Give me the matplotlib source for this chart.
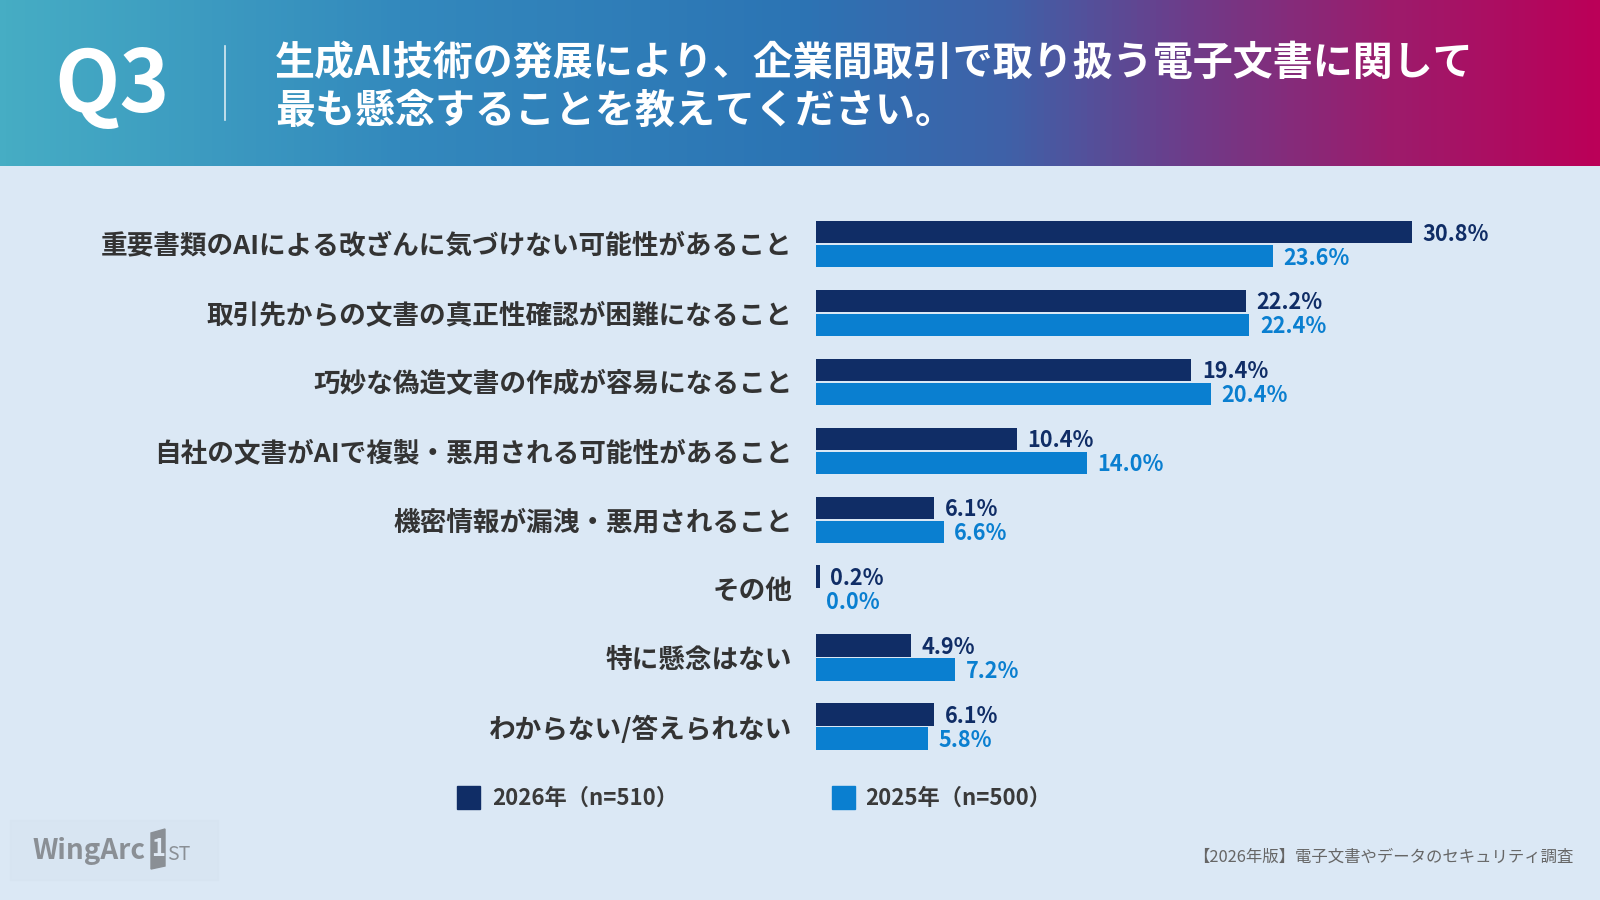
import numpy as np
import matplotlib
matplotlib.use("Agg")
import matplotlib.pyplot as plt
from matplotlib.colors import LinearSegmentedColormap
from matplotlib.patches import Rectangle, Polygon

plt.rcParams['font.family'] = ['Noto Sans CJK JP', 'DejaVu Sans']

# data
categories = [
    "重要書類のAIによる改ざんに気づけない可能性があること",
    "取引先からの文書の真正性確認が困難になること",
    "巧妙な偽造文書の作成が容易になること",
    "自社の文書がAIで複製・悪用される可能性があること",
    "機密情報が漏洩・悪用されること",
    "その他",
    "特に懸念はない",
    "わからない/答えられない",
]
vals_2026 = [30.8, 22.2, 19.4, 10.4, 6.1, 0.2, 4.9, 6.1]
vals_2025 = [23.6, 22.4, 20.4, 14.0, 6.6, 0.0, 7.2, 5.8]
series_names = ["2026年（n=510）", "2025年（n=500）"]

title_lines = ["生成AI技術の発展により、企業間取引で取り扱う電子文書に関して",
               "最も懸念することを教えてください。"]
source = "【2026年版】電子文書やデータのセキュリティ調査"

W, H = 1600, 900
BG = "#dbe8f5"
DARK = "#102d66"
BLUE = "#0a7fd0"
TXT = "#333333"
LOGO = "#8a8f95"


def fx(x):
    return x / W


def fy(y):
    return 1 - y / H


fig = plt.figure(figsize=(16, 9), dpi=100, facecolor=BG)

# header gradient
hdr = fig.add_axes([0, fy(166), 1, 166 / H])
cmap = LinearSegmentedColormap.from_list("hdr", [
    (0.0, "#46adc4"), (0.25, "#3389bd"), (0.5, "#2c74b4"),
    (0.63, "#3f61a8"), (0.75, "#703a88"), (0.87, "#9c1c6c"), (1.0, "#bb0058")])
hdr.imshow(np.linspace(0, 1, 512)[None, :], aspect="auto", cmap=cmap,
           extent=[0, 1, 0, 1])
hdr.set_axis_off()

fig.text(fx(112), fy(87), "Q3", color="white", fontsize=61, fontweight="bold",
         ha="center", va="center")
fig.add_artist(plt.Line2D([fx(224.5), fx(224.5)], [fy(46), fy(120)],
                          color="white", lw=1.2, alpha=0.8))
fig.text(fx(275), fy(63), title_lines[0], color="white", fontsize=28.8,
         fontweight="bold", va="center", ha="left")
fig.text(fx(275), fy(111), title_lines[1], color="white", fontsize=28.8,
         fontweight="bold", va="center", ha="left")

# bar chart
ax_left, ax_right = 816, 1590
ax_top, ax_bot = 209.5, 761
ax = fig.add_axes([fx(ax_left), fy(ax_bot), (ax_right - ax_left) / W,
                   (ax_bot - ax_top) / H])
ax.set_facecolor("none")
y = np.arange(len(categories))
h = 0.325
off = 0.174
ax.barh(y - off, vals_2026, height=h, color=DARK)
ax.barh(y + off, vals_2025, height=h, color=BLUE)
ax.set_xlim(0, 40)
ax.set_ylim(len(categories) - 0.5, -0.5)
ax.set_yticks(y)
ax.set_yticklabels(categories, fontsize=19.2, fontweight="bold", color=TXT)
ax.tick_params(axis="y", length=0, pad=17)
ax.set_xticks([])
for s in ax.spines.values():
    s.set_visible(False)

for yi, v in zip(y, vals_2026):
    ax.annotate(f"{v:.1f}%", xy=(v, yi - off), xytext=(7.5, -1.5),
                textcoords="offset points", ha="left", va="center",
                fontsize=15.6, fontweight="bold", color=DARK)
for yi, v in zip(y, vals_2025):
    ax.annotate(f"{v:.1f}%", xy=(v, yi + off), xytext=(7.5, -1.5),
                textcoords="offset points", ha="left", va="center",
                fontsize=15.6, fontweight="bold", color=BLUE)

# legend
for (sx, tx), name, c in zip([(457, 492), (832, 865)], series_names, [DARK, BLUE]):
    fig.add_artist(Rectangle((fx(sx), fy(809)), 23 / W, 23 / H, color=c,
                             transform=fig.transFigure))
    fig.text(fx(tx), fy(798), name, fontsize=16, fontweight="bold",
             color="#3a3a3a", ha="left", va="center")

# logo
fig.add_artist(Rectangle((fx(10), fy(880)), 208 / W, 60 / H, color="#d6e3f0",
                         alpha=0.6, transform=fig.transFigure))
fig.text(fx(32), fy(851), "WingArc", fontsize=20, fontweight="bold",
         color=LOGO, ha="left", va="center")
fig.add_artist(Polygon([(fx(151), fy(833)), (fx(165), fy(829)),
                        (fx(165), fy(866)), (fx(151), fy(869))],
                       closed=True, color=LOGO, transform=fig.transFigure))
fig.text(fx(158), fy(849), "1", fontsize=17, fontweight="bold", style="italic",
         color="#dfe9f4", ha="center", va="center")
fig.text(fx(167), fy(854), "ST", fontsize=14, style="italic",
         color=LOGO, ha="left", va="center")

# source
fig.text(fx(1573), fy(857), source, fontsize=11.8, color="#666666",
         ha="right", va="center")

fig.savefig("out.png", dpi=100, facecolor=BG)
